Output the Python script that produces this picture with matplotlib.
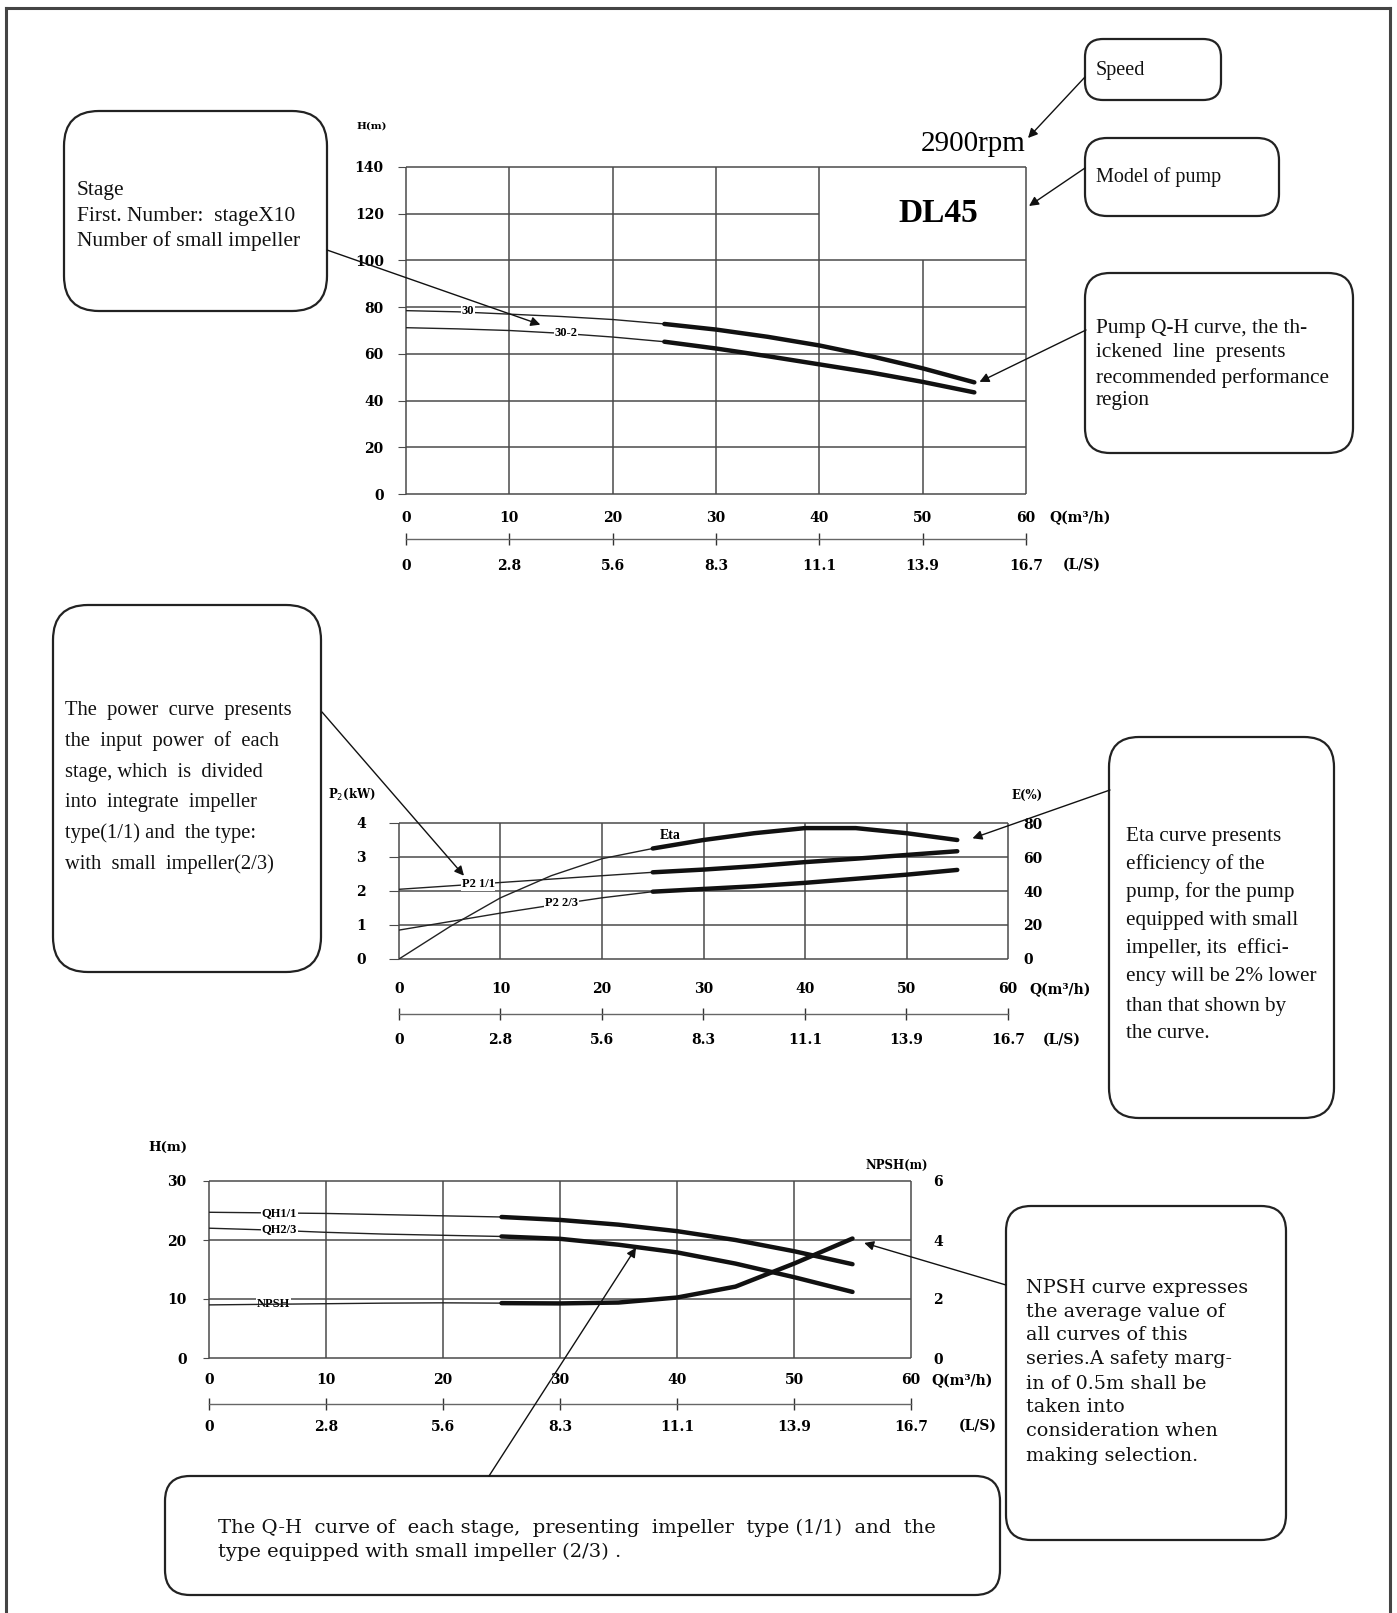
import matplotlib.pyplot as plt
from matplotlib.patches import FancyBboxPatch

plt.rcParams['font.family'] = ['Liberation Serif', 'DejaVu Sans']

# --- data ---
q_ticks = [0, 10, 20, 30, 40, 50, 60]
ls_labels = ['0', '2.8', '5.6', '8.3', '11.1', '13.9', '16.7']

q = [0, 5, 10, 15, 20, 25, 30, 35, 40, 45, 50, 55]
q_thick = 25  # start of recommended region (thick line)

# chart 1: Q-H of the 30 / 30-2 stage pump
h_ticks = [0, 20, 40, 60, 80, 100, 120, 140]
h_30 = [78.5, 78.0, 77.0, 76.0, 74.7, 72.8, 70.4, 67.3, 63.6, 59.0, 53.8, 47.8]
h_30_2 = [71.2, 70.7, 70.0, 68.8, 67.2, 65.2, 62.3, 59.0, 55.5, 52.0, 48.0, 43.5]

# chart 2: power and efficiency
p_ticks = [0, 1, 2, 3, 4]
e_ticks = [0, 20, 40, 60, 80]
p2_11 = [2.05, 2.15, 2.25, 2.35, 2.45, 2.55, 2.63, 2.73, 2.85, 2.95, 3.06, 3.17]
p2_23 = [0.85, 1.10, 1.35, 1.58, 1.80, 1.98, 2.06, 2.14, 2.24, 2.36, 2.48, 2.62]
eta = [0, 19, 36, 49, 59, 65, 70, 74, 77, 77, 74, 70]

# chart 3: Q-H per stage and NPSH
hs_ticks = [0, 10, 20, 30]
npsh_ticks = [0, 2, 4, 6]
qh_11 = [24.7, 24.6, 24.5, 24.3, 24.1, 23.9, 23.4, 22.6, 21.5, 20.0, 18.1, 15.9]
qh_23 = [22.0, 21.7, 21.3, 21.0, 20.8, 20.6, 20.2, 19.2, 17.9, 16.0, 13.7, 11.2]
npsh = [1.80, 1.82, 1.84, 1.86, 1.87, 1.86, 1.85, 1.88, 2.05, 2.42, 3.20, 4.05]

W, H = 1397, 1613
fig = plt.figure(figsize=(W / 100, H / 100), dpi=100)
GRID = '#4a4a4a'
TICKFONT = 'DejaVu Serif'


def rect(x0, x1, top, bot):
    return [x0 / W, 1 - bot / H, (x1 - x0) / W, (bot - top) / H]


# page overlay in pixel coords (y down)
pg = fig.add_axes([0, 0, 1, 1])
pg.set_xlim(0, W)
pg.set_ylim(H, 0)
pg.axis('off')
pg.plot([6, 1390], [8, 8], color='#444', lw=2.2)
pg.plot([6, 6], [8, H], color='#444', lw=2.2)
pg.plot([1390, 1390], [8, H], color='#444', lw=2.2)


def note(x0, y0, x1, y1, r, lines, x, ys, fs=14.5, family='Liberation Serif'):
    pg.add_patch(FancyBboxPatch((x0, y0), x1 - x0, y1 - y0,
                                boxstyle='round,pad=0,rounding_size=%d' % r,
                                fc='white', ec='#222', lw=1.6))
    for t, y in zip(lines, ys):
        pg.text(x, y, t, fontsize=fs, family=family, va='center', ha='left', color='#111')


def axlabel(x, y, s, fs=10, ha='left'):
    pg.text(x, y, s, fontsize=fs, family=TICKFONT, fontweight='bold', ha=ha, va='center')


def grid(ax, xt, yt, skip_h=None, skip_v=None):
    for y in yt:
        x1 = skip_h[1] if skip_h and y == skip_h[0] else xt[-1]
        ax.hlines(y, xt[0], x1, color=GRID, lw=1.1, clip_on=False, zorder=1)
    for x in xt:
        y1 = skip_v[1] if skip_v and x == skip_v[0] else yt[-1]
        ax.vlines(x, yt[0], y1, color=GRID, lw=1.1, clip_on=False, zorder=1)
    for s in ax.spines.values():
        s.set_visible(False)


def bold_ticks(ax):
    for t in ax.get_xticklabels() + ax.get_yticklabels():
        t.set_fontweight('bold')
        t.set_family(TICKFONT)


def ls_axis(ax, loc, pad):
    sec = ax.secondary_xaxis(loc)
    sec.set_xticks(q_ticks, labels=ls_labels)
    sec.spines['bottom'].set_color('#666')
    sec.spines['bottom'].set_linewidth(1.0)
    sec.tick_params(direction='inout', length=8, width=1, color='#333', pad=pad, labelsize=10)
    for t in sec.get_xticklabels():
        t.set_fontweight('bold')
        t.set_family(TICKFONT)


def curve(ax, y, label=None, lpos=None):
    ax.plot(q, y, color='#222', lw=1.0, zorder=3)
    qq = [a for a in q if a >= q_thick]
    yy = [b for a, b in zip(q, y) if a >= q_thick]
    ax.plot(qq, yy, color='#111', lw=3.2, solid_capstyle='round', zorder=4)
    if label:
        ax.text(lpos[0], lpos[1], label, fontsize=9, fontweight='bold', ha='center', va='center',
                zorder=5, bbox=dict(fc='white', ec='none', pad=0.5))


def arrow(ax, xy, start):
    ax.annotate('', xy=xy, xycoords='data', xytext=start, textcoords=pg.transData,
                annotation_clip=False,
                arrowprops=dict(arrowstyle='-|>', color='#111', lw=1.0, mutation_scale=14,
                                shrinkA=0, shrinkB=0))


# ---------------- chart 1 ----------------
ax1 = fig.add_axes(rect(406, 1026, 167, 494))
ax1.set_xlim(0, 60)
ax1.set_ylim(0, 140)
grid(ax1, q_ticks, h_ticks, skip_h=(120, 40), skip_v=(50, 100))
ax1.set_xticks(q_ticks)
ax1.set_yticks(h_ticks)
ax1.tick_params(axis='x', length=0, pad=12, labelsize=10)
ax1.tick_params(axis='y', length=6, color=GRID, pad=10, labelsize=10)
bold_ticks(ax1)
ls_axis(ax1, -0.138, 10)
curve(ax1, h_30, '30', (6, 78.3))
curve(ax1, h_30_2, '30-2', (15.5, 69.0))
ax1.text(51.5, 120, 'DL45', fontsize=24, fontweight='bold', ha='center', va='center')

axlabel(372, 126, 'H(m)', fs=7.5, ha='center')
axlabel(1049, 518, 'Q(m³/h)')
axlabel(1063, 565, '(L/S)')
pg.text(1026, 144, '2900rpm', fontsize=21, ha='right', va='center')

note(64, 111, 327, 311, 35, ['Stage', 'First. Number:  stageX10', 'Number of small impeller'],
     77, [191, 216, 241], fs=15.5)
note(1085, 39, 1221, 100, 18, ['Speed'], 1096, [70])
note(1085, 138, 1279, 216, 22, ['Model of pump'], 1096, [177])
note(1085, 273, 1353, 453, 25,
     ['Pump Q-H curve, the th-', 'ickened  line  presents', 'recommended performance', 'region'],
     1096, [329, 353, 378, 401], fs=15.3)

pg.annotate('', xy=(1028, 138), xytext=(1085, 77),
            arrowprops=dict(arrowstyle='-|>', color='#111', lw=1.0, mutation_scale=14, shrinkA=0, shrinkB=0))
pg.annotate('', xy=(1029, 206), xytext=(1085, 168),
            arrowprops=dict(arrowstyle='-|>', color='#111', lw=1.0, mutation_scale=14, shrinkA=0, shrinkB=0))
arrow(ax1, (13, 72.5), (327, 250))
arrow(ax1, (55.5, 48), (1086, 330))

# ---------------- chart 2 ----------------
ax2 = fig.add_axes(rect(399, 1008, 823, 959))
ax2.set_xlim(0, 60)
ax2.set_ylim(0, 4)
grid(ax2, q_ticks, p_ticks)
ax2.set_xticks(q_ticks)
ax2.set_yticks(p_ticks)
ax2.tick_params(axis='x', length=0, pad=16.5, labelsize=10)
ax2.tick_params(axis='y', length=7, color=GRID, pad=17, labelsize=10)
bold_ticks(ax2)
ls_axis(ax2, -0.404, 10)
curve(ax2, p2_11, 'P2 1/1', (7.8, 2.2))
curve(ax2, p2_23, 'P2 2/3', (16, 1.65))

ax2t = ax2.twinx()
ax2t.set_ylim(0, 80)
ax2t.set_yticks(e_ticks)
ax2t.tick_params(axis='y', length=0, pad=11, labelsize=10)
for s in ax2t.spines.values():
    s.set_visible(False)
bold_ticks(ax2t)
curve(ax2t, eta)
ax2t.text(26.7, 72.8, 'Eta', fontsize=10, fontweight='bold', ha='center', va='center')

axlabel(352, 794, 'P$_2$(kW)', fs=8.5, ha='center')
axlabel(1027, 795, 'E(%)', fs=8.5, ha='center')
axlabel(1029, 990, 'Q(m³/h)')
axlabel(1043, 1040, '(L/S)')

note(53, 605, 321, 972, 35,
     ['The  power  curve  presents', 'the  input  power  of  each', 'stage, which  is  divided',
      'into  integrate  impeller', 'type(1/1) and  the type:', 'with  small  impeller(2/3)'],
     65, [710, 741, 772, 802, 833, 864], fs=14.8)
note(1109, 737, 1334, 1118, 30,
     ['Eta curve presents', 'efficiency of the', 'pump, for the pump', 'equipped with small',
      'impeller, its  effici-', 'ency will be 2% lower', 'than that shown by', 'the curve.'],
     1126, [836, 864, 892, 921, 948, 977, 1006, 1034], fs=15.2)
arrow(ax2, (6.4, 2.45), (322, 712))
arrow(ax2t, (56.5, 71), (1110, 790))

# ---------------- chart 3 ----------------
ax3 = fig.add_axes(rect(209, 911, 1181, 1358))
ax3.set_xlim(0, 60)
ax3.set_ylim(0, 30)
grid(ax3, q_ticks, hs_ticks)
ax3.set_xticks(q_ticks)
ax3.set_yticks(hs_ticks)
ax3.tick_params(axis='x', length=0, pad=11, labelsize=10)
ax3.tick_params(axis='y', length=4, color=GRID, pad=12, labelsize=10)
bold_ticks(ax3)
ls_axis(ax3, -0.26, 7.5)
curve(ax3, qh_11, 'QH1/1', (6, 24.6))
curve(ax3, qh_23, 'QH2/3', (6, 21.8))
ax3.text(5.5, 9.1, 'NPSH', fontsize=9, fontweight='bold', ha='center', va='center', zorder=5,
         bbox=dict(fc='white', ec='none', pad=0.5))

ax3t = ax3.twinx()
ax3t.set_ylim(0, 6)
ax3t.set_yticks(npsh_ticks)
ax3t.tick_params(axis='y', length=0, pad=16, labelsize=10)
for s in ax3t.spines.values():
    s.set_visible(False)
bold_ticks(ax3t)
curve(ax3t, npsh)

axlabel(168, 1147, 'H(m)', fs=9.5, ha='center')
axlabel(897, 1165, 'NPSH(m)', fs=8.5, ha='center')
axlabel(931, 1381, 'Q(m³/h)')
axlabel(959, 1426, '(L/S)')

note(1006, 1206, 1286, 1540, 25,
     ['NPSH curve expresses', 'the average value of', 'all curves of this', 'series.A safety marg-',
      'in of 0.5m shall be', 'taken into', 'consideration when', 'making selection.'],
     1026, [1288, 1312, 1335, 1359, 1384, 1407, 1431, 1456], fs=13.8, family='DejaVu Serif')
note(165, 1476, 1000, 1595, 25,
     ['The Q-H  curve of  each stage,  presenting  impeller  type (1/1)  and  the',
      'type equipped with small impeller (2/3) .'],
     218, [1528, 1552], fs=14, family='DejaVu Serif')
arrow(ax3, (56, 19.5), (1006, 1285))
arrow(ax3, (36.5, 18.7), (489, 1476))

fig.savefig('out.png', dpi=100)
